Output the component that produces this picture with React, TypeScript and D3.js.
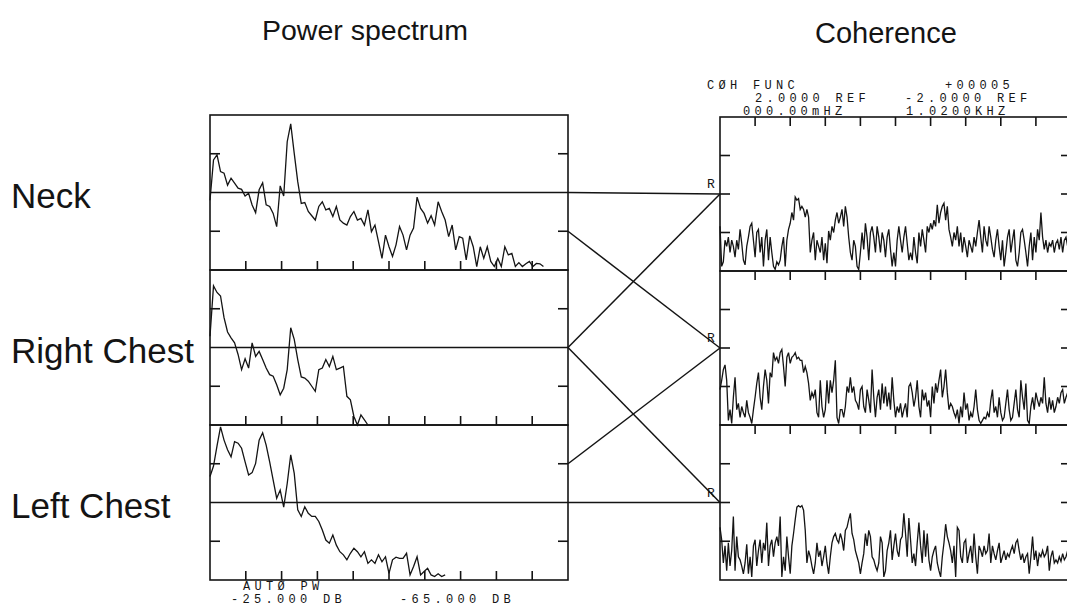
import React from 'react';
import * as d3 from 'd3';

// ---------- data ----------
const ROW_LABELS = ['Neck', 'Right Chest', 'Left Chest'];
const FREQ_MAX = 1020; // Hz (000.00 mHz .. 1.0200 kHz)
const PS_DF = 10; // Hz per power spectrum point
const COH_DF = 1020 / 210; // Hz per coherence point
const DB_TOP = -25;
const DB_BOTTOM = -65;
const DB_TICKS = [-55, -35];
const DB_REF = -45;
const COH_TICKS = [0.25, 0.5, 0.75];
const COH_REF = 0.5;

const PS_NECK = [
  -47, -36.6, -35.3, -39.6, -40.0, -43.1, -41.3, -42.6, -43.9, -44.2,
  -45.9, -45.2, -48.2, -50.2, -44.3, -42.5, -48.2, -48.6, -50.4, -53.8,
  -43.3, -45.9, -31.9, -27.3, -34.9, -42.2, -47.8, -47.6, -49.9, -51.0,
  -52.1, -48.6, -47.4, -49.5, -49.1, -51.2, -48.6, -52.1, -52.9, -53.4,
  -51.2, -49.9, -52.1, -51.7, -53.4, -49.5, -55.1, -53.4, -57.7, -62.0,
  -56.0, -59.0, -61.5, -58.5, -53.8, -56.0, -59.8, -56.0, -54.2, -46.2,
  -49.1, -50.4, -52.9, -51.0, -53.4, -47.4, -49.9, -52.1, -56.4, -53.4,
  -59.8, -56.4, -56.8, -62.4, -56.2, -59.0, -64.1, -59.0, -62.0, -59.0,
  -62.8, -64.1, -62.0, -64.1, -59.0, -61.1, -60.7, -64.1, -63.1, -64.1,
  -63.4, -62.8, -64.1, -63.3, -63.4, -64.1,
];

const PS_RCHEST = [
  -42.1, -29.1, -30.8, -31.7, -37.3, -41.0, -42.5, -43.8, -46.8, -50.7,
  -47.9, -50.3, -43.8, -47.3, -46.0, -48.1, -50.3, -52.0, -52.4, -54.6,
  -57.2, -55.5, -50.7, -39.9, -42.9, -48.1, -52.6, -52.9, -53.7, -55.0,
  -56.3, -50.7, -50.3, -48.1, -49.9, -47.3, -50.7, -50.3, -49.9, -57.6,
  -58.5, -62.8, -65.0, -62.4, -63.7, -65.0,
];

const PS_LCHEST = [
  -38.3, -35.6, -30.4, -25.5, -28.9, -31.4, -33.2, -29.3, -29.7, -31.0,
  -34.5, -37.9, -37.3, -34.9, -28.9, -27.0, -30.2, -34.5, -39.2, -43.9,
  -41.8, -46.2, -40.1, -32.7, -37.5, -46.9, -48.6, -46.1, -47.8, -48.6,
  -48.6, -49.9, -52.1, -54.7, -55.5, -53.4, -56.0, -57.7, -58.5, -59.8,
  -58.1, -56.8, -57.7, -59.0, -57.7, -60.7, -59.8, -60.7, -58.5, -60.3,
  -59.0, -63.3, -59.8, -59.1, -59.4, -59.4, -58.1, -63.7, -61.5, -59.0,
  -63.7, -62.8, -62.0, -63.7, -64.1, -63.4, -64.1, -63.7,
];

const COH_NECK = [
  0.29, 0.03, 0.06, 0.20, 0.16, 0.22, 0.12, 0.20, 0.16, 0.09,
  0.20, 0.14, 0.27, 0.18, 0.07, 0.04, 0.16, 0.22, 0.29, 0.31,
  0.20, 0.09, 0.25, 0.27, 0.12, 0.22, 0.03, 0.20, 0.27, 0.07,
  0.22, 0.12, 0.03, 0.01, 0.06, 0.04, 0.07, 0.16, 0.22, 0.03,
  0.20, 0.27, 0.31, 0.38, 0.33, 0.48, 0.46, 0.47, 0.40, 0.42,
  0.40, 0.35, 0.40, 0.35, 0.12, 0.20, 0.25, 0.07, 0.20, 0.16,
  0.12, 0.22, 0.07, 0.18, 0.05, 0.26, 0.20, 0.29, 0.25, 0.33,
  0.38, 0.31, 0.35, 0.40, 0.29, 0.42, 0.35, 0.22, 0.12, 0.07,
  0.20, 0.16, 0.03, 0.01, 0.12, 0.25, 0.14, 0.31, 0.22, 0.07,
  0.25, 0.29, 0.22, 0.12, 0.29, 0.22, 0.12, 0.25, 0.20, 0.09,
  0.22, 0.27, 0.14, 0.03, 0.12, 0.03, 0.20, 0.29, 0.20, 0.12,
  0.22, 0.29, 0.18, 0.07, 0.12, 0.07, 0.22, 0.12, 0.05, 0.25,
  0.16, 0.27, 0.20, 0.12, 0.29, 0.25, 0.31, 0.27, 0.33, 0.29,
  0.43, 0.31, 0.38, 0.42, 0.44, 0.33, 0.42, 0.27, 0.22, 0.16,
  0.25, 0.20, 0.29, 0.16, 0.25, 0.12, 0.22, 0.16, 0.09, 0.20,
  0.16, 0.12, 0.22, 0.16, 0.25, 0.33, 0.22, 0.12, 0.29, 0.20,
  0.16, 0.29, 0.22, 0.14, 0.09, 0.20, 0.27, 0.16, 0.07, 0.20,
  0.03, 0.12, 0.22, 0.27, 0.12, 0.20, 0.27, 0.07, 0.03, 0.12,
  0.25, 0.27, 0.20, 0.12, 0.03, 0.16, 0.25, 0.07, 0.22, 0.12,
  0.27, 0.20, 0.38, 0.22, 0.14, 0.20, 0.12, 0.18, 0.16, 0.20,
  0.12, 0.18, 0.20, 0.14, 0.22, 0.12, 0.20, 0.22, 0.16, 0.14, 0.20,
];

const COH_RCHEST = [
  0.23, 0.29, 0.36, 0.39, 0.29, 0.03, 0.10, 0.01, 0.18, 0.31,
  0.10, 0.14, 0.05, 0.12, 0.08, 0.05, 0.16, 0.08, 0.05, 0.01,
  0.10, 0.18, 0.27, 0.34, 0.18, 0.10, 0.25, 0.36, 0.29, 0.14,
  0.34, 0.31, 0.47, 0.42, 0.44, 0.40, 0.47, 0.49, 0.38, 0.25,
  0.44, 0.47, 0.40, 0.44, 0.45, 0.47, 0.43, 0.44, 0.42, 0.42,
  0.34, 0.38, 0.34, 0.27, 0.16, 0.21, 0.18, 0.23, 0.08, 0.05,
  0.29, 0.12, 0.05, 0.10, 0.29, 0.14, 0.29, 0.21, 0.29, 0.42,
  0.05, 0.01, 0.10, 0.10, 0.05, 0.12, 0.25, 0.21, 0.31, 0.21,
  0.25, 0.16, 0.14, 0.10, 0.23, 0.25, 0.12, 0.08, 0.23, 0.16,
  0.08, 0.36, 0.18, 0.05, 0.18, 0.23, 0.10, 0.27, 0.14, 0.25,
  0.12, 0.21, 0.10, 0.31, 0.16, 0.05, 0.12, 0.08, 0.14, 0.05,
  0.10, 0.14, 0.05, 0.25, 0.27, 0.21, 0.12, 0.18, 0.29, 0.12,
  0.05, 0.23, 0.16, 0.21, 0.12, 0.16, 0.05, 0.25, 0.14, 0.27,
  0.21, 0.29, 0.36, 0.18, 0.25, 0.36, 0.21, 0.10, 0.14, 0.12,
  0.08, 0.05, 0.10, 0.01, 0.12, 0.05, 0.21, 0.10, 0.14, 0.03,
  0.08, 0.05, 0.12, 0.23, 0.10, 0.03, 0.01, 0.03, 0.05, 0.04,
  0.08, 0.05, 0.16, 0.23, 0.08, 0.12, 0.05, 0.18, 0.08, 0.03,
  0.05, 0.14, 0.23, 0.10, 0.03, 0.05, 0.14, 0.23, 0.10, 0.05,
  0.29, 0.18, 0.10, 0.27, 0.03, 0.01, 0.12, 0.18, 0.10, 0.21,
  0.16, 0.12, 0.18, 0.14, 0.31, 0.14, 0.08, 0.18, 0.10, 0.16,
  0.08, 0.12, 0.18, 0.14, 0.21, 0.23, 0.14, 0.18, 0.21, 0.16, 0.18,
];

const COH_LCHEST = [
  0.34, 0.26, 0.11, 0.22, 0.06, 0.24, 0.09, 0.19, 0.41, 0.06,
  0.28, 0.15, 0.13, 0.09, 0.04, 0.11, 0.23, 0.04, 0.15, 0.02,
  0.22, 0.26, 0.09, 0.19, 0.26, 0.11, 0.24, 0.19, 0.37, 0.09,
  0.22, 0.26, 0.15, 0.24, 0.28, 0.22, 0.41, 0.02, 0.15, 0.06,
  0.28, 0.15, 0.04, 0.22, 0.30, 0.39, 0.47, 0.48, 0.47, 0.48,
  0.45, 0.32, 0.11, 0.19, 0.15, 0.09, 0.04, 0.11, 0.24, 0.15,
  0.19, 0.09, 0.15, 0.22, 0.11, 0.04, 0.15, 0.24, 0.28, 0.30,
  0.26, 0.24, 0.30, 0.26, 0.19, 0.32, 0.34, 0.39, 0.43, 0.30,
  0.26, 0.19, 0.15, 0.11, 0.04, 0.11, 0.17, 0.30, 0.22, 0.32,
  0.28, 0.15, 0.13, 0.09, 0.06, 0.11, 0.28, 0.24, 0.02, 0.06,
  0.19, 0.24, 0.32, 0.13, 0.22, 0.30, 0.19, 0.15, 0.26, 0.28,
  0.43, 0.30, 0.15, 0.40, 0.26, 0.11, 0.17, 0.09, 0.24, 0.37,
  0.22, 0.11, 0.32, 0.15, 0.30, 0.13, 0.06, 0.15, 0.19, 0.22,
  0.11, 0.06, 0.02, 0.15, 0.24, 0.36, 0.28, 0.24, 0.19, 0.11,
  0.22, 0.02, 0.34, 0.32, 0.15, 0.11, 0.24, 0.26, 0.11, 0.17,
  0.22, 0.11, 0.30, 0.15, 0.04, 0.22, 0.19, 0.15, 0.22, 0.17,
  0.19, 0.30, 0.11, 0.22, 0.17, 0.13, 0.19, 0.24, 0.11, 0.15,
  0.19, 0.13, 0.17, 0.15, 0.19, 0.22, 0.17, 0.24, 0.26, 0.19,
  0.13, 0.17, 0.11, 0.15, 0.17, 0.04, 0.15, 0.28, 0.13, 0.19,
  0.09, 0.17, 0.15, 0.19, 0.15, 0.17, 0.22, 0.06, 0.15, 0.19,
  0.11, 0.13, 0.11, 0.15, 0.12, 0.17, 0.13, 0.15, 0.19, 0.15, 0.17,
];

const PS_SERIES = [PS_NECK, PS_RCHEST, PS_LCHEST];
const COH_SERIES = [COH_NECK, COH_RCHEST, COH_LCHEST];

// ---------- layout ----------
const W = 1067;
const H = 607;
const INK = '#141414';
const SANS = "'Liberation Sans', Arial, Helvetica, sans-serif";
const PLOT = "'Liberation Mono', 'DejaVu Sans Mono', monospace";
const LEFT_X = [210, 568];
const RIGHT_X = [720, 1071];
const LEFT_ROWS = [[115, 270], [270, 425], [425, 580]];
const RIGHT_ROWS = [[117, 271], [271, 425], [425, 580]];
const TICK = 10;

export default function App() {
  const lx = d3.scaleLinear().domain([0, FREQ_MAX]).range(LEFT_X);
  const rx = d3.scaleLinear().domain([0, FREQ_MAX]).range(RIGHT_X);
  const ly = LEFT_ROWS.map(([t, b]) => d3.scaleLinear().domain([DB_BOTTOM, DB_TOP]).range([b, t]));
  const ry = RIGHT_ROWS.map(([t, b]) => d3.scaleLinear().domain([0, 1]).range([b, t]));
  const xTicks = d3.range(1, 10).map((k) => (k * FREQ_MAX) / 10);

  const psPath = (data: number[], r: number) =>
    d3.line<number>().x((_, i) => lx(i * PS_DF)).y((d) => ly[r](d))(data) || '';
  const cohPath = (data: number[], r: number) =>
    d3.line<number>().x((_, i) => rx(i * COH_DF)).y((d) => ry[r](d))(data) || '';

  const L0 = lx(0), L1 = lx(FREQ_MAX), R0 = rx(0), R1 = rx(FREQ_MAX);

  const connectors: [number, number, number, number][] = [
    [L1, ly[1](DB_REF), R0, ry[0](COH_REF)],
    [L1, ly[1](DB_REF), R0, ry[2](COH_REF)],
    [L1, ly[0](DB_TICKS[0]), R0, ry[1](COH_REF)],
    [L1, ly[2](DB_TICKS[1]), R0, ry[1](COH_REF)],
  ];

  const plotText = (x: number, y: number, s: string, size = 12, ls = 4.3) => (
    <text x={x} y={y} fontFamily={PLOT} fontSize={size} letterSpacing={ls} fill={INK}>
      {s}
    </text>
  );

  return (
    <svg width={W} height={H} style={{ position: 'absolute', left: 0, top: 0, background: '#fff' }}>
      <rect width={W} height={H} fill="#fff" />
      {/* titles */}
      <text x={262} y={40} fontFamily={SANS} fontSize={28.5} fill={INK}>Power spectrum</text>
      <text x={815} y={43} fontFamily={SANS} fontSize={29} fill={INK}>Coherence</text>
      {/* row labels */}
      {ROW_LABELS.map((lab, r) => (
        <text key={lab} x={11} y={ly[r](DB_REF) + 15} fontFamily={SANS} fontSize={35} fill={INK}>
          {lab}
        </text>
      ))}

      <g stroke={INK} fill="none" strokeWidth={1.6}>
        {/* left panel frames */}
        {LEFT_ROWS.map(([t, b], r) => (
          <g key={'lf' + r}>
            <rect x={L0} y={t} width={L1 - L0} height={b - t} />
            {DB_TICKS.map((v) => (
              <g key={v}>
                <line x1={L0} x2={L0 + TICK} y1={ly[r](v)} y2={ly[r](v)} />
                <line x1={L1 - TICK} x2={L1} y1={ly[r](v)} y2={ly[r](v)} />
              </g>
            ))}
            {xTicks.map((f) => (
              <line key={f} x1={lx(f)} x2={lx(f)} y1={b} y2={b - 9} />
            ))}
          </g>
        ))}
        {/* reference lines */}
        <polyline points={`${L0},${ly[0](DB_REF)} ${L1},${ly[0](DB_REF)} ${R0},${ry[0](COH_REF)}`} />
        <line x1={L0} x2={L1} y1={ly[1](DB_REF)} y2={ly[1](DB_REF)} />
        <polyline points={`${L0},${ly[2](DB_REF)} ${L1},${ly[2](DB_REF)} ${R0},${ry[2](COH_REF)}`} />
        {connectors.map(([x1, y1, x2, y2], i) => (
          <line key={'c' + i} x1={x1} y1={y1} x2={x2} y2={y2} strokeWidth={1.5} />
        ))}

        {/* right panel frames */}
        {RIGHT_ROWS.map(([t, b], r) => (
          <g key={'rf' + r}>
            <rect x={R0} y={t} width={R1 - R0} height={b - t} />
            {COH_TICKS.map((v) => (
              <g key={v}>
                <line x1={R0} x2={R0 + TICK} y1={ry[r](v)} y2={ry[r](v)} />
                <line x1={R1 - TICK} x2={R1} y1={ry[r](v)} y2={ry[r](v)} />
              </g>
            ))}
            {xTicks.map((f) => (
              <line key={f} x1={rx(f)} x2={rx(f)} y1={t} y2={t + 9} />
            ))}
          </g>
        ))}
      </g>

      {/* traces */}
      <g stroke={INK} fill="none" strokeWidth={1.3} strokeLinejoin="miter">
        {PS_SERIES.map((s, r) => (
          <path key={'ps' + r} d={psPath(s, r)} />
        ))}
        {COH_SERIES.map((s, r) => (
          <path key={'coh' + r} d={cohPath(s, r)} />
        ))}
      </g>

      {/* R markers */}
      {RIGHT_ROWS.map((_, r) => (
        <text key={'R' + r} x={R0 - 13} y={ry[r](COH_REF) - 6} fontFamily={PLOT} fontSize={13} fill={INK}>
          R
        </text>
      ))}

      {/* analyzer annotations */}
      {plotText(707, 89, 'CØH FUNC')}
      {plotText(945, 89, '+00005')}
      {plotText(755, 102, '2.0000 REF')}
      {plotText(905, 102, '-2.0000 REF')}
      {plotText(743, 115, '000.00mHZ')}
      {plotText(906, 115, '1.0200KHZ')}
      {plotText(243, 590, 'AUTØ PW')}
      {plotText(231, 603, '-25.000 DB')}
      {plotText(400, 603, '-65.000 DB')}
    </svg>
  );
}
